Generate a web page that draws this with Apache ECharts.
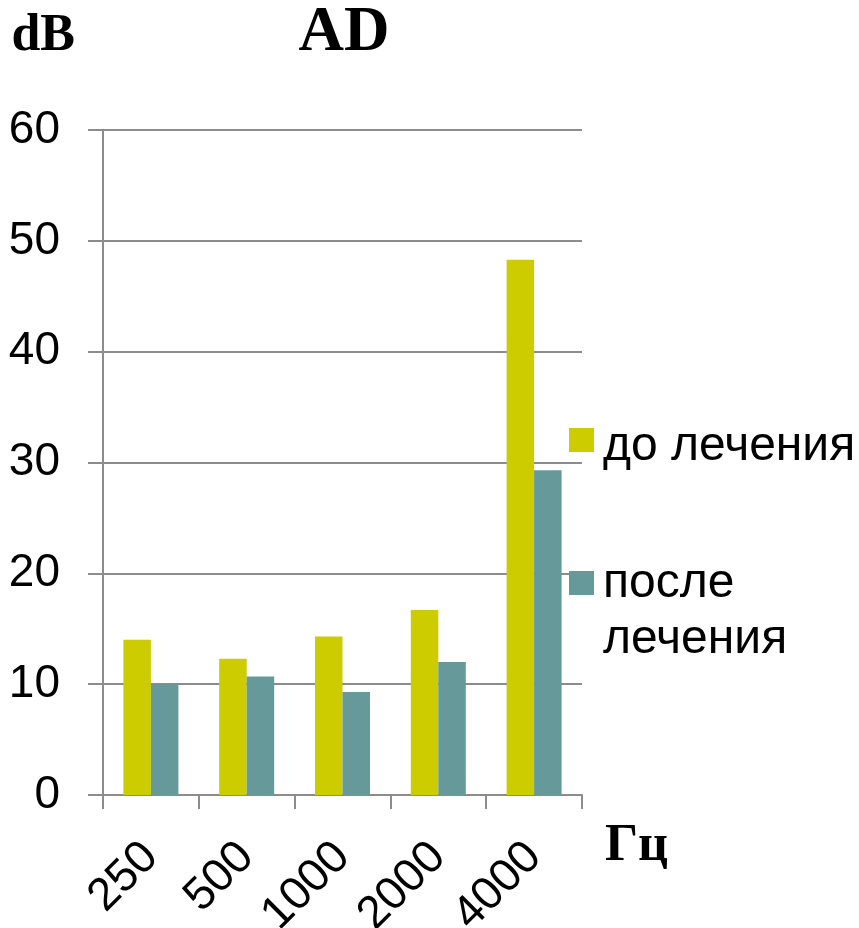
<!DOCTYPE html>
<html>
<head>
<meta charset="utf-8">
<script src="https://cdn.jsdelivr.net/npm/echarts@6/dist/echarts.min.js"></script>
<style>
  html, body { margin: 0; padding: 0; background: #fff; }
  #chart { width: 859px; height: 928px; }
</style>
</head>
<body>
<div id="chart"></div>
<script>
const categories = ['250', '500', '1000', '2000', '4000'];
const beforeValues = [14.0, 12.3, 14.3, 16.7, 48.3];
const afterValues = [10.0, 10.7, 9.3, 12.0, 29.3];
const seriesNames = ['до лечения', 'после лечения'];

const gray = '#8c8c8c';
const sans = 'Liberation Sans, Arial, sans-serif';
const serif = 'Liberation Serif, Times New Roman, serif';

// legend text is centred on the icon, the top padding of a rich token pushes it down
const legendRich = {
    a: { fontFamily: sans, fontSize: 48, lineHeight: 56, color: '#000', padding: [14, 0, 0, 4] },
    b: { fontFamily: sans, fontSize: 48, lineHeight: 56, color: '#000', padding: [58, 0, 0, 4] }
};

const chart = echarts.init(document.getElementById('chart'));
const opt = {
    animation: false,
    title: {
        text: 'AD',
        left: 339,
        top: -3,
        textAlign: 'center',
        textStyle: { fontFamily: serif, fontWeight: 'bold', fontSize: 63, color: '#000' }
    },
    legend: [
        {
            data: [seriesNames[0]],
            left: 569,
            top: 409,
            padding: 0,
            icon: 'rect',
            itemWidth: 25,
            itemHeight: 24,
            formatter: name => '{a|' + name + '}',
            textStyle: { rich: legendRich }
        },
        {
            data: [seriesNames[1]],
            left: 569,
            top: 502,
            padding: 0,
            icon: 'rect',
            itemWidth: 25,
            itemHeight: 24,
            formatter: () => '{b|после}\n{b|лечения}',
            textStyle: { rich: legendRich }
        }
    ],
    grid: {
        left: 103,
        right: 277,
        top: 130,
        bottom: 133,
        outerBoundsMode: 'none'
    },
    xAxis: {
        type: 'category',
        data: categories,
        name: 'Гц',
        nameLocation: 'end',
        nameGap: 23,
        nameTextStyle: {
            fontFamily: serif, fontWeight: 'bold', fontSize: 52, color: '#000',
            verticalAlign: 'top', padding: [26, 0, 0, 0]
        },
        axisLine: { lineStyle: { color: gray, width: 2 } },
        axisTick: { show: true, length: 14, lineStyle: { color: gray, width: 2 } },
        axisLabel: { rotate: 45, margin: 55, fontFamily: sans, fontSize: 46, color: '#000' }
    },
    yAxis: {
        type: 'value',
        min: 0,
        max: 60,
        interval: 10,
        name: 'dB',
        nameLocation: 'end',
        nameGap: 67,
        nameTextStyle: { fontFamily: serif, fontWeight: 'bold', fontSize: 52, color: '#000', align: 'right', padding: [0, 28, 0, 0] },
        axisLine: { show: true, lineStyle: { color: gray, width: 2 } },
        axisTick: { show: true, length: 15, lineStyle: { color: gray, width: 2 } },
        splitLine: { lineStyle: { color: gray, width: 2 } },
        axisLabel: { margin: 43, fontFamily: sans, fontSize: 46, color: '#000' }
    },
    series: [
        {
            name: seriesNames[0],
            type: 'bar',
            data: beforeValues,
            barWidth: 27.5,
            barGap: '0%',
            itemStyle: { color: '#cccc00' }
        },
        {
            name: seriesNames[1],
            type: 'bar',
            data: afterValues,
            barWidth: 27.5,
            itemStyle: { color: '#669999' }
        }
    ]
};
chart.setOption(opt);
</script>
</body>
</html>
